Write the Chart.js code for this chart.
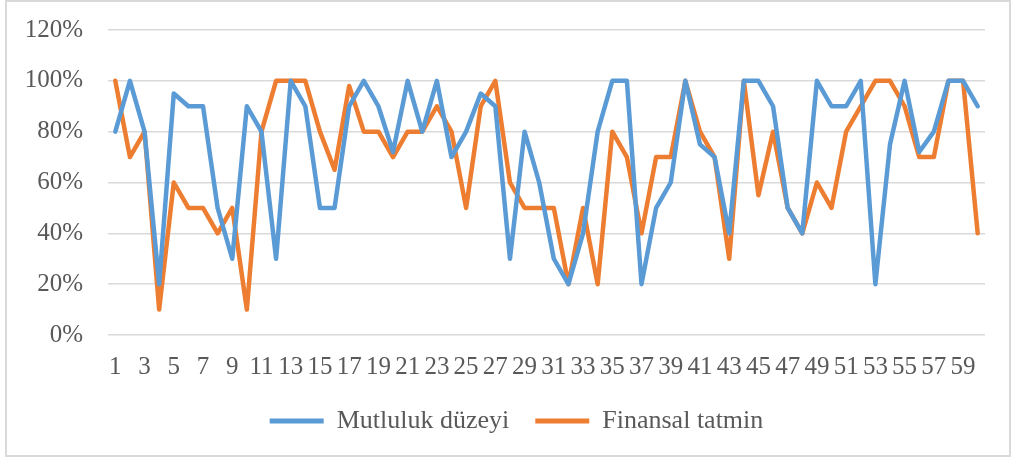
<!DOCTYPE html>
<html>
<head>
<meta charset="utf-8">
<script src="https://cdn.jsdelivr.net/npm/chart.js@4/dist/chart.umd.min.js"></script>
<style>
    html, body { margin: 0; padding: 0; background: #fff; }
    #frame {
        position: absolute; left: 5px; top: 0; width: 1002px; height: 453px;
        border: 2px solid #d9d9d9;
    }
    #wrap { position: absolute; left: 0; top: 0; width: 1011px; height: 459px; }
</style>
</head>
<body>
<div id="frame"></div>
<div id="wrap"><canvas id="chart" width="1011" height="459"></canvas></div>
<script>
// respondents 1..60
const respondents = Array.from({ length: 60 }, (_, i) => String(i + 1));

const seriesNames = ["Mutluluk düzeyi", "Finansal tatmin"];

const mutluluk = [
    80, 100, 80, 20, 95, 90, 90, 50, 30, 90,
    80, 30, 100, 90, 50, 50, 90, 100, 90, 72,
    100, 80, 100, 70, 80, 95, 90, 30, 80, 60,
    30, 20, 40, 80, 100, 100, 20, 50, 60, 100,
    75, 70, 40, 100, 100, 90, 50, 40, 100, 90,
    90, 100, 20, 75, 100, 72, 80, 100, 100, 90,
];

const finansal = [
    100, 70, 80, 10, 60, 50, 50, 40, 50, 10,
    80, 100, 100, 100, 80, 65, 98, 80, 80, 70,
    80, 80, 90, 80, 50, 90, 100, 60, 50, 50,
    50, 20, 50, 20, 80, 70, 40, 70, 70, 100,
    80, 70, 30, 100, 55, 80, 50, 40, 60, 50,
    80, 90, 100, 100, 90, 70, 70, 100, 100, 40,
];

const yTicks = [0, 20, 40, 60, 80, 100, 120];

const textColor = "#595959";
const gridColor = "#d9d9d9";
const serif = "'Liberation Serif', 'Times New Roman', serif";

const lineStyle = (label, data, color) => ({
    label,
    data,
    borderColor: color,
    backgroundColor: color,
    borderWidth: 4.5,
    borderJoinStyle: "round",
    borderCapStyle: "round",
    pointRadius: 0,
    tension: 0,
});

// legend is centred on the plot box in the original, not on the whole canvas
const legendOffset = {
    id: "legendOffset",
    afterLayout(chart) {
        if (!chart.legend) return;
        chart.legend.left += 48;
        chart.legend.width -= 48;
    },
};

new Chart(document.getElementById("chart"), {
    type: "line",
    data: {
        labels: respondents,
        datasets: [
            lineStyle(seriesNames[0], mutluluk, "#5b9bd5"),
            lineStyle(seriesNames[1], finansal, "#ed7d31"),
        ],
    },
    plugins: [legendOffset],
    options: {
        responsive: false,
        animation: false,
        layout: { padding: { left: 0, right: 26, top: 30, bottom: 15 } },
        scales: {
            x: {
                offset: true,
                grid: { display: false, drawTicks: false },
                border: { display: false },
                ticks: {
                    autoSkip: false,
                    maxRotation: 0,
                    minRotation: 0,
                    padding: 17,
                    color: textColor,
                    font: { family: serif, size: 25 },
                    callback: (value, index) => (index % 2 === 0 ? respondents[index] : ""),
                },
                afterFit: (scale) => { scale.height = 47; },
            },
            y: {
                min: 0,
                max: 120,
                afterBuildTicks: (scale) => {
                    scale.ticks = yTicks.map((v) => ({ value: v }));
                },
                grid: {
                    color: gridColor,
                    lineWidth: 1.5,
                    drawTicks: true,
                    tickLength: 25,
                    tickColor: "rgba(0,0,0,0)",
                },
                border: { display: false },
                ticks: {
                    padding: 0,
                    color: textColor,
                    font: { family: serif, size: 25 },
                    callback: (value) => value + "%",
                },
                afterFit: (scale) => { scale.width = 108; },
            },
        },
        plugins: {
            legend: {
                position: "bottom",
                labels: {
                    boxWidth: 54,
                    boxHeight: 5,
                    padding: 26,
                    color: textColor,
                    font: { family: serif, size: 26 },
                    generateLabels: (chart) =>
                        Chart.defaults.plugins.legend.labels
                            .generateLabels(chart)
                            .map((item) => ({ ...item, lineWidth: 0 })),
                },
            },
            tooltip: { enabled: false },
        },
    },
});
</script>
</body>
</html>
